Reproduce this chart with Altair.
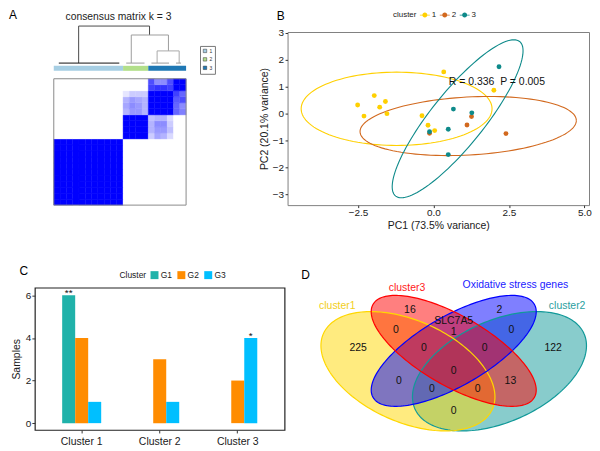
import numpy as np
import pandas as pd
import altair as alt

FONT = "Liberation Sans"

# ===================== Panel A data =====================
a_cluster_ids = ["1", "2", "3"]
a_cluster_sizes = [11, 4, 6]
a_cluster_colors = ["#A6CEE3", "#B2DF8A", "#1F78B4"]
# consensus values for samples 11..20 (rows) x samples 11..20 (cols)
a_cons_11_20 = [
    [1, 1, 1, 1, 0.20, 0.35, 0.30, 0.15, 0, 0],
    [1, 1, 1, 1, 0.30, 0.40, 0.40, 0.25, 0, 0],
    [1, 1, 1, 1, 0.30, 0.45, 0.45, 0.20, 0, 0],
    [1, 1, 1, 1, 0.25, 0.30, 0.30, 0.15, 0, 0],
    [0.30, 0.40, 0.40, 0.30, 1, 1, 1, 1, 0.60, 0.50],
    [0.35, 0.45, 0.40, 0.30, 1, 1, 1, 1, 0.60, 0.45],
    [0.30, 0.40, 0.35, 0.30, 1, 1, 1, 1, 0.65, 0.70],
    [0.10, 0.20, 0.20, 0.20, 1, 1, 1, 1, 0.75, 0.60],
    [0, 0, 0, 0, 0.75, 0.80, 0.80, 0.75, 1, 1],
    [0, 0, 0, 0, 0.70, 0.45, 0.45, 0.70, 1, 1],
]
a_dend_left_x = [3.95, 12.3, 16.4]
a_dend_right_x = [15.2, 18.2, 19.9]
a_dend_height = [1.0, 0.763, 0.342]
a_dend_left_child_h = [0.02, 0.02, 0.02]
a_dend_right_child_h = [0.763, 0.342, 0.02]
a_dend_colors = ["#4a4a4a", "#9c9c9c", "#a9a9a9"]
a_leaf_x1 = [0.8, 11.5, 15.5, 19.4]
a_leaf_x2 = [10.4, 14.4, 18.3, 20.2]
a_leaf_h = [0.02, 0.02, 0.02, 0.02]
a_leaf_colors = ["#111111", "#999999", "#999999", "#999999"]

# ===================== Panel B data =====================
b_clusters = ["1", "2", "3"]
b_colors = ["#FFD000", "#D2691E", "#0E8A8A"]
b_pc1 = [
    [-2.51, -2.30, -1.96, -1.78, -1.59, -1.54, -0.38, -0.18, 0.04, 0.34, 2.00],
    [-0.13, 1.11, 1.26, 2.40],
    [-0.13, 0.49, 0.66, 1.27, 2.17, 0.49],
]
b_pc2 = [
    [0.31, -0.10, 0.66, 0.23, 0.44, -0.01, -0.09, -0.44, -0.64, 1.54, 0.86],
    [-0.74, -0.43, -0.12, -0.75],
    [-0.68, -0.59, 0.16, 0.02, 1.73, -1.53],
]
# confidence ellipses: centre, major and minor semi-axis vectors
b_ell_cx = [-1.22, 1.15, 0.80]
b_ell_cy = [0.17, -0.47, -0.20]
b_ell_ux = [3.16, 3.58, 2.05]
b_ell_uy = [0.0, 0.22, 2.87]
b_ell_vx = [0.0, 0.05, 0.70]
b_ell_vy = [1.36, -1.075, -0.60]
b_stat_text = "R = 0.336\u00a0\u00a0P = 0.005"
b_stat_x = [2.1]
b_stat_y = [1.18]

# ===================== Panel C data =====================
c_clusters = ["Cluster 1", "Cluster 2", "Cluster 3"]
c_groups = ["G1", "G2", "G3"]
c_colors = ["#20B2AA", "#FF8C00", "#00BFFF"]
c_values = {"G1": [6, 0, 0], "G2": [4, 3, 2], "G3": [1, 1, 4]}
c_star_cluster = ["Cluster 1", "Cluster 3"]
c_star_group = ["G1", "G3"]
c_star_text = ["**", "*"]

# ===================== Panel D data =====================
d_sets = ["cluster2", "cluster1", "Oxidative stress genes", "cluster3"]  # drawing order
d_colors = ["#119999", "#FFD700", "#0000FF", "#FF0000"]
d_label_colors = ["#2AA0A0", "#F2CE1A", "#1A1AFF", "#FF1A1A"]
d_cx = [46, -46, 0, 0]
d_cy = [0, 0, 20.5, 20.5]
d_a = [93, 93, 93.6, 93.6]
d_b = [51, 51, 35, 35]
d_ang = [24, -24, 30, -30]
d_setlab_x = [114, -117, 62, -47]
d_setlab_y = [66, 66, 87, 84]
d_counts = ["225", "16", "2", "122", "0", "1", "0", "0", "0", "0", "0", "13", "0", "0", "0"]
d_count_x = [-96, -44, 46, 100, -58, 0, 58, -30, 31, -55, 0, 57, -22, 24, 0]
d_count_y = [23, 62, 62, 23, 41, 39, 41, 23, 23, -10, 0, -10, -18, -18, -40]
d_gene = ["SLC7A5"]
d_gene_x = [0]
d_gene_y = [51]


def text_label(txt, x, y, size, color="#000000", align="center", baseline="middle"):
    return alt.Chart(pd.DataFrame({"t": [txt]})).mark_text(
        fontSize=size, color=color, align=align, baseline=baseline, font=FONT
    ).encode(text="t:N", x=alt.value(x), y=alt.value(y))


# ---------------- Panel A chart ----------------
n = sum(a_cluster_sizes)
c1 = a_cluster_sizes[0]
cells = []
for i in range(n):
    for j in range(n):
        if i < c1 and j < c1:
            v = 1.0
        elif i < c1 or j < c1:
            v = 0.0
        else:
            v = a_cons_11_20[i - c1][j - c1]
        cells.append(dict(x=j, x2=j + 1, y=i, y2=i + 1, v=v))
heat_df = pd.DataFrame(cells)

xA = alt.Scale(domain=[-3.0, 36.63], nice=False, zero=False)
yA = alt.Scale(domain=[0, 28.77], nice=False, zero=False)
blue_scale = alt.Scale(domain=[0, 1], range=["#FFFFFF", "#0000FF"], interpolate="rgb")

heat = alt.Chart(heat_df).mark_rect(strokeWidth=0.4).encode(
    x=alt.X("x:Q", scale=xA, axis=None), x2="x2:Q",
    y=alt.Y("y:Q", scale=yA, axis=None), y2="y2:Q",
    fill=alt.Fill("v:Q", scale=blue_scale, legend=None),
    stroke=alt.Stroke("v:Q", scale=blue_scale, legend=None),
)
border_df = pd.DataFrame({"x": [0], "x2": [n], "y": [0], "y2": [n]})
border = alt.Chart(border_df).mark_rect(fill=None, stroke="#8a8a8a", strokeWidth=1).encode(
    x=alt.X("x:Q", scale=xA, axis=None), x2="x2:Q",
    y=alt.Y("y:Q", scale=yA, axis=None), y2="y2:Q",
)
starts = np.cumsum([0] + a_cluster_sizes[:-1])
cbar_df = pd.DataFrame({
    "x": starts, "x2": starts + np.array(a_cluster_sizes),
    "y": [22.32] * 3, "y2": [23.15] * 3, "cluster": a_cluster_ids,
})
cbar = alt.Chart(cbar_df).mark_rect().encode(
    x=alt.X("x:Q", scale=xA, axis=None), x2="x2:Q",
    y=alt.Y("y:Q", scale=yA, axis=None), y2="y2:Q",
    color=alt.Color("cluster:N", scale=alt.Scale(domain=a_cluster_ids, range=a_cluster_colors),
                    legend=alt.Legend(orient="none", legendX=166, legendY=14, title=None,
                                      symbolType="square", symbolSize=12,
                                      symbolStrokeColor="#333333", symbolStrokeWidth=0.5,
                                      labelFontSize=5, labelOffset=2, labelColor="#333333",
                                      strokeColor="#777777", padding=2.5, rowPadding=1.5,
                                      fillColor="#FFFFFF")),
)
DB, DS = 23.48, 6.28
segs = []
for k in range(len(a_dend_height)):
    yh = DB + DS * a_dend_height[k]
    segs.append(dict(x=a_dend_left_x[k], x2=a_dend_right_x[k], y=yh, y2=yh, c=a_dend_colors[k]))
    segs.append(dict(x=a_dend_left_x[k], x2=a_dend_left_x[k], y=yh,
                     y2=DB + DS * a_dend_left_child_h[k], c=a_dend_colors[k]))
    segs.append(dict(x=a_dend_right_x[k], x2=a_dend_right_x[k], y=yh,
                     y2=DB + DS * a_dend_right_child_h[k], c=a_dend_colors[k]))
for k in range(len(a_leaf_x1)):
    yl = DB + DS * a_leaf_h[k]
    segs.append(dict(x=a_leaf_x1[k], x2=a_leaf_x2[k], y=yl, y2=yl, c=a_leaf_colors[k]))
segs_df = pd.DataFrame(segs)
dend_layers = []
for col in segs_df["c"].unique():
    dend_layers.append(alt.Chart(segs_df[segs_df["c"] == col]).mark_rule(strokeWidth=1, color=col).encode(
        x=alt.X("x:Q", scale=xA, axis=None), x2="x2:Q",
        y=alt.Y("y:Q", scale=yA, axis=None), y2="y2:Q",
    ))
chartA = alt.layer(
    heat, border, cbar, *dend_layers,
    text_label("consensus matrix k = 3", 84, -15, 10.4, "#222222"),
    text_label("A", -22, -17, 12),
).properties(width=251, height=174)

# ---------------- Panel B chart ----------------
pts = []
for ci, cl in enumerate(b_clusters):
    for px, py in zip(b_pc1[ci], b_pc2[ci]):
        pts.append(dict(pc1=px, pc2=py, cluster=cl))
pts_df = pd.DataFrame(pts)
ell = []
tt = np.linspace(0, 2 * np.pi, 121)
for ci, cl in enumerate(b_clusters):
    for k, t in enumerate(tt):
        ell.append(dict(
            pc1=b_ell_cx[ci] + b_ell_ux[ci] * np.cos(t) + b_ell_vx[ci] * np.sin(t),
            pc2=b_ell_cy[ci] + b_ell_uy[ci] * np.cos(t) + b_ell_vy[ci] * np.sin(t),
            cluster=cl, k=k))
ell_df = pd.DataFrame(ell)

xB = alt.Scale(domain=[-4.83, 5.15], nice=False, zero=False)
yB = alt.Scale(domain=[-3.405, 3.02], nice=False, zero=False)
colB = alt.Scale(domain=b_clusters, range=b_colors)
LEG_PATH = "M-1,-0.08L1,-0.08L1,0.08L-1,0.08Z M0.5,0A0.5,0.5 0 1,1 -0.5,0A0.5,0.5 0 1,1 0.5,0Z"

xaxB = alt.Axis(values=[-2.5, 0, 2.5, 5.0], format=".1f", title="PC1 (73.5% variance)",
                grid=False, domain=False, tickSize=2.5, labelPadding=0, titlePadding=3)
yaxB = alt.Axis(values=[-3, -2, -1, 0, 1, 2, 3], title="PC2 (20.1% variance)",
                grid=False, domain=False, tickSize=2.5, labelPadding=1.5, titlePadding=3)

ell_layers = []
for ci, cl in enumerate(b_clusters):
    ell_layers.append(alt.Chart(ell_df[ell_df["cluster"] == cl]).mark_line(
        strokeWidth=1.1, color=b_colors[ci]).encode(
        x=alt.X("pc1:Q", scale=xB, axis=xaxB),
        y=alt.Y("pc2:Q", scale=yB, axis=yaxB),
        order="k:Q",
    ))
pt_layer = alt.Chart(pts_df).mark_circle(size=24, opacity=1).encode(
    x=alt.X("pc1:Q", scale=xB, axis=xaxB),
    y=alt.Y("pc2:Q", scale=yB, axis=yaxB),
    color=alt.Color("cluster:N", scale=colB,
                    legend=alt.Legend(orient="none", legendX=106, legendY=-22,
                                      direction="horizontal", titleOrient="left",
                                      title="cluster", titleFontSize=8, titleFontWeight="normal",
                                      labelFontSize=8, symbolType=LEG_PATH, symbolSize=100,
                                      symbolStrokeWidth=0, labelOffset=2, columnPadding=3,
                                      titlePadding=3)),
)
stat_df = pd.DataFrame({"x": b_stat_x, "y": b_stat_y, "t": [b_stat_text]})
stat_layer = alt.Chart(stat_df).mark_text(fontSize=10.5, font=FONT, color="#111111").encode(
    x=alt.X("x:Q", scale=xB, axis=xaxB), y=alt.Y("y:Q", scale=yB, axis=yaxB), text="t:N")
chartB = alt.layer(*ell_layers, pt_layer, stat_layer, text_label("B", -7, -16, 12)).properties(
    width=303, height=174, view=alt.ViewBackground(stroke="#808080", strokeWidth=1))

# ---------------- Panel C chart ----------------
bars = []
for g in c_groups:
    for ci, cl in enumerate(c_clusters):
        bars.append(dict(cluster=cl, group=g, n=c_values[g][ci]))
bars_df = pd.DataFrame(bars)
stars = []
for cl, g, s in zip(c_star_cluster, c_star_group, c_star_text):
    stars.append(dict(cluster=cl, group=g, n=c_values[g][c_clusters.index(cl)], s=s))
stars_df = pd.DataFrame(stars)

xC = alt.X("cluster:N", sort=c_clusters,
           scale=alt.Scale(paddingInner=0.5, paddingOuter=0.35),
           axis=alt.Axis(title=None, labelAngle=0, labelFontSize=10.5, domain=False,
                         tickSize=3, labelPadding=3.5))
xoC = alt.XOffset("group:N", sort=c_groups, scale=alt.Scale(paddingInner=0, paddingOuter=0))
yC = alt.Y("n:Q", scale=alt.Scale(domain=[-0.32, 6.36], nice=False, zero=False),
           axis=alt.Axis(values=[0, 2, 4, 6], title="Samples", grid=False, domain=False,
                         tickSize=3, labelPadding=1, titlePadding=4, titleFontSize=10.5))
colC = alt.Scale(domain=c_groups, range=c_colors)
bar_layer = alt.Chart(bars_df).mark_bar(strokeWidth=0.6, strokeOpacity=0.6).encode(
    x=xC, xOffset=xoC, y=yC,
    color=alt.Color("group:N", scale=colC,
                    legend=alt.Legend(orient="none", legendX=85, legendY=-17,
                                      direction="horizontal", titleOrient="left",
                                      title="Cluster", titleFontSize=8.5, titleFontWeight="normal",
                                      labelFontSize=8.5, symbolType="square", symbolSize=64,
                                      symbolStrokeWidth=0, labelOffset=2, columnPadding=5,
                                      titlePadding=4)),
)
star_layer = alt.Chart(stars_df).mark_text(fontSize=10, font=FONT, baseline="alphabetic",
                                            dy=1, color="#111111").encode(
    x=xC, xOffset=xoC, y=yC, text="s:N")
chartC = alt.layer(bar_layer, star_layer, text_label("C", -11, -17, 12)).properties(
    width=251, height=143, view=alt.ViewBackground(stroke="#222222", strokeWidth=1.2))

# ---------------- Panel D chart ----------------
xD = alt.Scale(domain=[-167, 136], nice=False, zero=False)
yD = alt.Scale(domain=[-67, 84], nice=False, zero=False)


def ellipse_chords(cx, cy, a, b, ang, m=160):
    th = np.radians(ang)
    c, s = np.cos(th), np.sin(th)
    A = c * c / a ** 2 + s * s / b ** 2
    B = 2 * c * s * (1 / a ** 2 - 1 / b ** 2)
    C = s * s / a ** 2 + c * c / b ** 2
    dxm = np.sqrt(4 * C / (4 * A * C - B * B))
    dx = dxm * np.cos(np.linspace(np.pi, 0, m))
    disc = np.clip(B * B * dx * dx - 4 * C * (A * dx * dx - 1), 0, None)
    y1 = (-B * dx - np.sqrt(disc)) / (2 * C)
    y2 = (-B * dx + np.sqrt(disc)) / (2 * C)
    return pd.DataFrame({"x": cx + dx, "y": cy + y1, "y2": cy + y2})


fills = []
outlines = []
tt2 = np.linspace(0, 2 * np.pi, 181)
for k in range(len(d_sets)):
    dfk = ellipse_chords(d_cx[k], d_cy[k], d_a[k], d_b[k], d_ang[k])
    fills.append(alt.Chart(dfk).mark_area(orient="vertical", color=d_colors[k], fillOpacity=0.5).encode(
        x=alt.X("x:Q", scale=xD, axis=None), y=alt.Y("y:Q", scale=yD, axis=None), y2="y2:Q"))
    th = np.radians(d_ang[k])
    odf = pd.DataFrame({
        "x": d_cx[k] + d_a[k] * np.cos(th) * np.cos(tt2) - d_b[k] * np.sin(th) * np.sin(tt2),
        "y": d_cy[k] + d_a[k] * np.sin(th) * np.cos(tt2) + d_b[k] * np.cos(th) * np.sin(tt2),
        "i": np.arange(len(tt2)),
    })
    outlines.append(alt.Chart(odf).mark_line(strokeWidth=1.2, color=d_colors[k]).encode(
        x=alt.X("x:Q", scale=xD, axis=None), y=alt.Y("y:Q", scale=yD, axis=None), order="i:Q"))
setlabs = []
for k in range(len(d_sets)):
    sdf = pd.DataFrame({"x": [d_setlab_x[k]], "y": [d_setlab_y[k]], "t": [d_sets[k]]})
    setlabs.append(alt.Chart(sdf).mark_text(fontSize=10.5, font=FONT, color=d_label_colors[k]).encode(
        x=alt.X("x:Q", scale=xD, axis=None), y=alt.Y("y:Q", scale=yD, axis=None), text="t:N"))
cnt = alt.Chart(pd.DataFrame({"x": d_count_x + d_gene_x, "y": d_count_y + d_gene_y,
                              "t": d_counts + d_gene})).mark_text(
    fontSize=10.5, font=FONT, color="#111111").encode(
    x=alt.X("x:Q", scale=xD, axis=None), y=alt.Y("y:Q", scale=yD, axis=None), text="t:N")
chartD = alt.layer(*fills, *outlines, *setlabs, cnt, text_label("D", 18, -13, 12)).properties(
    width=303, height=151)

chart = alt.ConcatChart(
    concat=[chartA, chartB, chartC, chartD], columns=2, align="each", bounds="flush",
    spacing={"row": 83, "column": 3},
).resolve_scale(
    color="independent", fill="independent", stroke="independent"
).resolve_legend(
    color="independent", fill="independent", stroke="independent"
).properties(
    padding={"left": 0, "top": 0, "right": 0, "bottom": 0}
).configure(font=FONT).configure_view(strokeWidth=0).configure_axis(
    labelFont=FONT, titleFont=FONT, labelColor="#1a1a1a", titleColor="#1a1a1a",
    tickColor="#333333", labelFontSize=10, titleFontSize=10.5, titleFontWeight="normal",
).configure_legend(labelFont=FONT, titleFont=FONT, labelColor="#1a1a1a", titleColor="#1a1a1a")

chart.save("out.html", embed_options={"renderer": "svg", "actions": False})
